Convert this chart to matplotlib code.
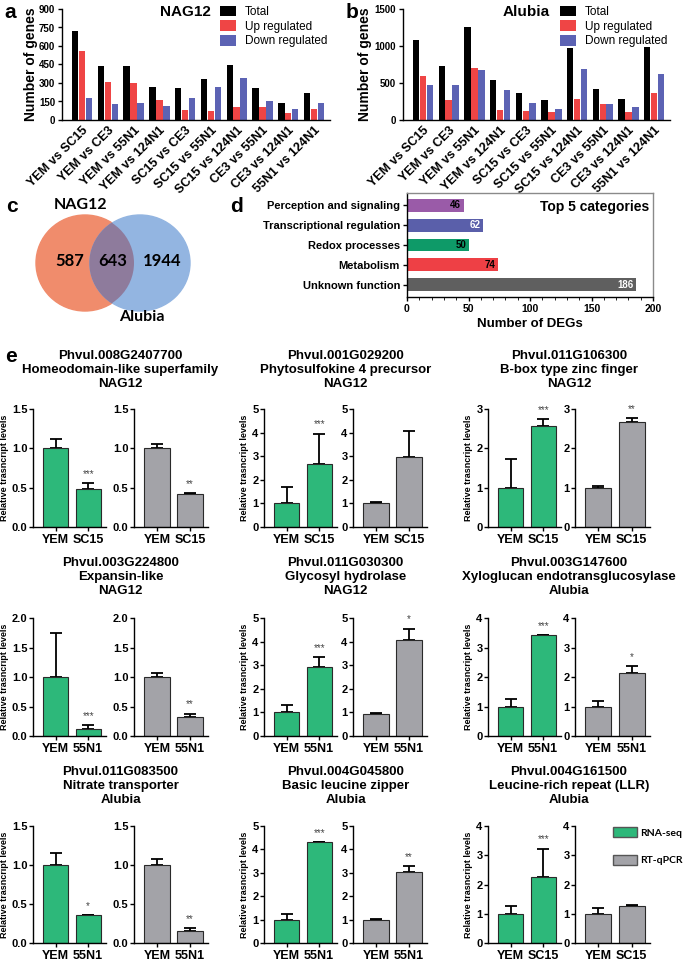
import numpy as np
import matplotlib.pyplot as plt
from matplotlib.patches import Ellipse, Patch
from matplotlib.ticker import MultipleLocator

plt.rcParams['font.family'] = ['Liberation Sans', 'DejaVu Sans']
plt.rcParams['font.weight'] = 'bold'
plt.rcParams['axes.labelweight'] = 'bold'
plt.rcParams['axes.linewidth'] = 1.0
plt.rcParams['xtick.major.width'] = 1.0
plt.rcParams['ytick.major.width'] = 1.0

# ---- data: panels a / b
comparisons = ['YEM vs SC15', 'YEM vs CE3', 'YEM vs 55N1', 'YEM vs 124N1', 'SC15 vs CE3',
               'SC15 vs 55N1', 'SC15 vs 124N1', 'CE3 vs 55N1', 'CE3 vs 124N1', '55N1 vs 124N1']
nag_total = [718, 439, 434, 266, 258, 333, 447, 258, 136, 217]
nag_up = [556, 312, 298, 163, 81, 73, 108, 108, 60, 87]
nag_down = [176, 127, 141, 114, 182, 266, 344, 155, 87, 136]
alu_total = [1075, 736, 1255, 536, 364, 273, 977, 418, 282, 986]
alu_up = [596, 271, 705, 136, 127, 114, 286, 214, 105, 364]
alu_down = [474, 470, 673, 400, 236, 155, 695, 214, 182, 627]

# ---- data: panel c
venn_nag_only = 587
venn_shared = 643
venn_alu_only = 1944

# ---- data: panel d
categories = ['Perception and signaling', 'Transcriptional regulation', 'Redox processes',
              'Metabolism', 'Unknown function']
deg_counts = [46, 62, 50, 74, 186]
cat_colors = ['#9A5BA8', '#5A5FAA', '#0E9A68', '#EE4045', '#5F5F5F']
count_colors = ['black', 'white', 'black', 'black', 'white']

# ---- data: panel e
genes = ['Phvul.008G2407700', 'Phvul.001G029200', 'Phvul.011G106300',
         'Phvul.003G224800', 'Phvul.011G030300', 'Phvul.003G147600',
         'Phvul.011G083500', 'Phvul.004G045800', 'Phvul.004G161500']
gene_names = ['Homeodomain-like superfamily', 'Phytosulfokine 4 precursor', 'B-box type zinc finger',
              'Expansin-like', 'Glycosyl hydrolase', 'Xyloglucan endotransglucosylase',
              'Nitrate transporter', 'Basic leucine zipper', 'Leucine-rich repeat (LLR)']
cultivar = ['NAG12', 'NAG12', 'NAG12', 'NAG12', 'NAG12', 'Alubia', 'Alubia', 'Alubia', 'Alubia']
contrast = ['SC15', 'SC15', 'SC15', '55N1', '55N1', '55N1', '55N1', '55N1', 'SC15']
rnaseq_mean = [[1.0, 0.48], [1.0, 2.68], [1.0, 2.58], [1.0, 0.12], [1.0, 2.92],
               [1.0, 3.42], [1.0, 0.36], [1.0, 4.33], [1.0, 2.25]]
rnaseq_err = [[0.12, 0.08], [0.70, 1.28], [0.72, 0.17], [0.75, 0.07], [0.30, 0.43],
              [0.27, 0.0], [0.15, 0.0], [0.22, 0.0], [0.27, 0.98]]
qpcr_mean = [[1.0, 0.42], [1.0, 2.97], [1.0, 2.67], [1.0, 0.33], [0.92, 4.08],
             [1.0, 2.12], [1.0, 0.16], [1.0, 3.03], [1.0, 1.27]]
qpcr_err = [[0.05, 0.01], [0.04, 1.10], [0.05, 0.09], [0.07, 0.05], [0.05, 0.47],
            [0.18, 0.26], [0.08, 0.03], [0.04, 0.27], [0.18, 0.02]]
rnaseq_sig = ['***', '***', '***', '***', '***', '***', '*', '***', '***']
qpcr_sig = ['**', '', '**', '**', '*', '*', '**', '**', '']
y_max = [1.5, 5, 3, 2, 5, 4, 1.5, 5, 4]
y_step = [0.5, 1, 1, 0.5, 1, 1, 0.5, 1, 1]

W, H = 685, 963
fig = plt.figure(figsize=(6.85, 9.63), dpi=100)


def px_axes(l, t, r, b):
    return fig.add_axes([l / W, 1 - b / H, (r - l) / W, (b - t) / H])


def panel_label(x, y, s):
    fig.text(x / W, 1 - y / H, s, fontsize=15, fontweight='bold', va='center', ha='left')


def deg_bars(ax, total, up, down, title, ymax, step, ylab_x):
    x = np.arange(len(comparisons))
    ax.bar(x - 0.27, total, 0.25, color='black', label='Total')
    ax.bar(x, up, 0.25, color='#EF4545', label='Up regulated')
    ax.bar(x + 0.27, down, 0.25, color='#5C63B4', label='Down regulated')
    ax.set_xlim(-0.78, 9.62)
    ax.set_ylim(0, ymax)
    ax.yaxis.set_major_locator(MultipleLocator(step))
    ax.set_xticks(x)
    ax.set_xticklabels(comparisons, rotation=45, ha='right', rotation_mode='anchor', fontsize=9)
    ax.tick_params(axis='y', labelsize=7, length=3, pad=2)
    ax.tick_params(axis='x', length=0, pad=3)
    ax.spines['top'].set_visible(False)
    ax.spines['right'].set_visible(False)
    ax.set_ylabel('Number of genes', fontsize=10)
    ax.yaxis.set_label_coords(ylab_x, 0.5)
    ax.set_title(title, fontsize=11, fontweight='bold', y=0.86, x=0.46)
    ax.legend(loc='upper right', bbox_to_anchor=(1.03, 1.125), frameon=False,
              prop={'weight': 'normal', 'size': 8.5}, handlelength=1.3, handleheight=1.0,
              labelspacing=0.2, handletextpad=0.8)


# ---- a
ax_a = px_axes(62, 9, 330, 120)
deg_bars(ax_a, nag_total, nag_up, nag_down, 'NAG12', 900, 150, -0.09)
panel_label(4, 12, 'a')

# ---- b
ax_b = px_axes(403, 9, 670, 120)
deg_bars(ax_b, alu_total, alu_up, alu_down, 'Alubia', 1500, 500, -0.115)
panel_label(346, 12, 'b')

# ---- c Venn
ax_c = px_axes(0, 195, 230, 330)
ax_c.set_xlim(0, 230)
ax_c.set_ylim(330 - 195, 0)
ax_c.axis('off')
left_c = Ellipse((85, 68), 98, 96, color='#F08C6C')
right_c = Ellipse((140, 68), 100, 96, color='#93B5E1')
ax_c.add_patch(left_c)
ax_c.add_patch(right_c)
mid_c = Ellipse((140, 68), 100, 96, color='#8E7B9C')
ax_c.add_patch(mid_c)
mid_c.set_clip_path(left_c)
vfont = ['Lato', 'DejaVu Sans']
ax_c.text(70, 66, str(venn_nag_only), ha='center', va='center', fontsize=12, family=vfont)
ax_c.text(113, 66, str(venn_shared), ha='center', va='center', fontsize=12, family=vfont)
ax_c.text(162, 66, str(venn_alu_only), ha='center', va='center', fontsize=12, family=vfont)
ax_c.text(81, 10, 'NAG12', ha='center', va='center', fontsize=11.5, family=vfont)
ax_c.text(142, 122, 'Alubia', ha='center', va='center', fontsize=11.5, family=vfont)
panel_label(6, 206, 'c')

# ---- d
ax_d = px_axes(407, 193, 653, 297)
yy = np.arange(len(categories))
ax_d.barh(yy, deg_counts, height=0.65, color=cat_colors)
for i, v in enumerate(deg_counts):
    ax_d.text(v - 2, i, str(v), ha='right', va='center', fontsize=7,
              color=count_colors[i], family=['Liberation Sans Narrow', 'Liberation Sans'])
ax_d.set_ylim(4.62, -0.62)
ax_d.set_xlim(0, 200)
ax_d.set_yticks(yy)
ax_d.set_yticklabels(categories, fontsize=8)
ax_d.xaxis.set_major_locator(MultipleLocator(50))
ax_d.xaxis.set_minor_locator(MultipleLocator(10))
ax_d.tick_params(axis='x', labelsize=7.5, length=3, pad=2)
ax_d.tick_params(axis='x', which='minor', length=2)
ax_d.tick_params(axis='y', length=3, pad=2)
for s in ax_d.spines.values():
    s.set_color('#8a8a8a')
ax_d.spines['bottom'].set_color('black')
ax_d.spines['left'].set_color('black')
ax_d.set_xlabel('Number of DEGs', fontsize=9.5, labelpad=3)
ax_d.text(0.985, 0.87, 'Top 5 categories', transform=ax_d.transAxes, ha='right', va='center',
          fontsize=10)
panel_label(230, 206, 'd')

# ---- e
panel_label(5, 357, 'e')
row_top = [409, 618, 826]
row_bottom = [527, 736, 943]
title_y = [350, 557, 766]
green_cols = [(33, 106), (264, 337), (488, 561)]
gray_cols = [(134, 208), (353, 427), (575, 650)]
green = '#2DB87A'
gray = '#A3A3A8'


def expr_bars(ax, means, errs, sig, color, ymax, step, comp):
    x = np.arange(2)
    ax.bar(x, means, 0.78, color=color, edgecolor='#2a2a2a', linewidth=0.8, zorder=2)
    ax.errorbar(x, means, yerr=[[0, 0], errs], fmt='none', ecolor='black',
                elinewidth=1.3, capsize=4, capthick=1.3, zorder=1)
    if sig:
        ax.text(1, means[1] + errs[1] + 0.035 * ymax, sig, ha='center', va='bottom',
                fontsize=7, color='#444444', fontweight='normal')
    ax.set_xlim(-0.7, 1.55)
    ax.set_ylim(0, ymax)
    ax.yaxis.set_major_locator(MultipleLocator(step))
    if step < 1:
        ax.yaxis.set_major_formatter(plt.FormatStrFormatter('%.1f'))
    else:
        ax.yaxis.set_major_formatter(plt.FormatStrFormatter('%d'))
    ax.set_xticks(x)
    ax.set_xticklabels(['YEM', comp], fontsize=9)
    ax.tick_params(axis='y', labelsize=8, length=3, pad=1)
    ax.tick_params(axis='x', length=3, pad=2)
    ax.spines['top'].set_visible(False)
    ax.spines['right'].set_visible(False)


for k in range(9):
    r, c = divmod(k, 3)
    ax_g = px_axes(green_cols[c][0], row_top[r], green_cols[c][1], row_bottom[r])
    expr_bars(ax_g, rnaseq_mean[k], rnaseq_err[k], rnaseq_sig[k], green, y_max[k], y_step[k], contrast[k])
    ax_g.set_ylabel('Relative trasncript levels', fontsize=6.5, labelpad=2)
    ax_q = px_axes(gray_cols[c][0], row_top[r], gray_cols[c][1], row_bottom[r])
    expr_bars(ax_q, qpcr_mean[k], qpcr_err[k], qpcr_sig[k], gray, y_max[k], y_step[k], contrast[k])
    cx = (green_cols[c][0] + gray_cols[c][1]) / 2
    fig.text(cx / W, 1 - title_y[r] / H, genes[k] + '\n' + gene_names[k] + '\n' + cultivar[k],
             ha='center', va='top', fontsize=9.5, linespacing=1.2)

fig.legend(handles=[Patch(facecolor=green, edgecolor='#555555'), Patch(facecolor=gray, edgecolor='#555555')],
           labels=['RNA-seq', 'RT-qPCR'], loc='upper left', bbox_to_anchor=(606 / W, 1 - 820 / H),
           frameon=False, handlelength=2.3, handleheight=1.1, labelspacing=1.6, handletextpad=0.3,
           borderpad=0.2, prop={'family': ['Lato', 'DejaVu Sans'], 'weight': 'bold', 'size': 7.5})

fig.savefig('out.png', dpi=100)
